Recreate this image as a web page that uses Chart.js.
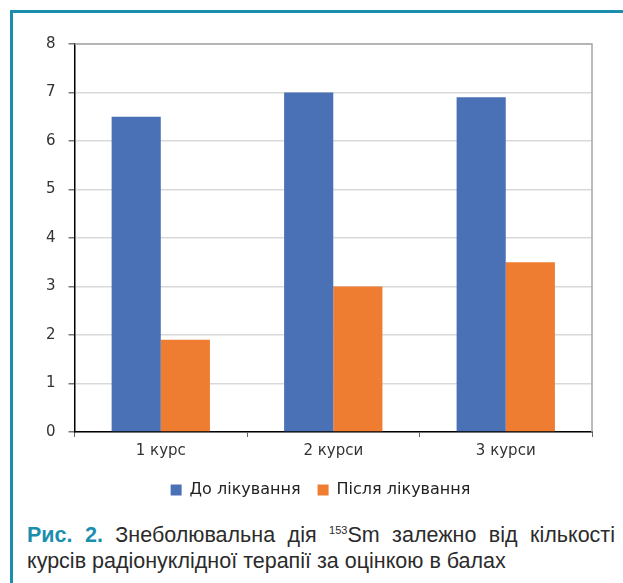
<!DOCTYPE html>
<html>
<head>
<meta charset="utf-8">
<script src="https://cdn.jsdelivr.net/npm/chart.js@4"></script>
<style>
  html, body { margin: 0; padding: 0; background: #fff; }
  body { width: 623px; height: 583px; position: relative; overflow: hidden; }
  .frame {
    position: absolute; left: 10px; top: 10px; right: -10px; bottom: -10px;
    border-left: 3px solid #1b8eae; border-top: 3px solid #1b8eae;
  }
  #wrap { position: absolute; left: 0; top: 0; width: 623px; height: 514px; }
  .caption {
    position: absolute; left: 27px; top: 522px; width: 588px;
    font-family: "Liberation Sans", Arial, sans-serif; font-size: 21.5px;
    line-height: 26px; color: #2b2b2b;
  }
  .caption .l1 { text-align: justify; text-align-last: justify; white-space: nowrap; }
  .caption b { color: #1b8eae; }
  .caption sup { font-size: 11px; vertical-align: 8px; line-height: 0; }
</style>
</head>
<body>
<div class="frame"></div>
<div id="wrap"><canvas id="c"></canvas></div>
<div class="caption">
  <div class="l1"><b>Рис. 2.</b> Знеболювальна дія <sup>153</sup>Sm залежно від кількості</div>
  <div>курсів радіонуклідної терапії за оцінкою в балах</div>
</div>
<script>
const categories = ["1 курс", "2 курси", "3 курси"];
const beforeTreatment = [6.5, 7.0, 6.9];
const afterTreatment = [1.9, 3.0, 3.5];
const seriesNames = ["До лікування", "Після лікування"];

// Thin grey frame along the top and right edges of the plot area
const plotFrame = {
  id: 'plotFrame',
  afterDraw(chart) {
    const { ctx, chartArea: a } = chart;
    ctx.save();
    ctx.strokeStyle = '#a6a6a6';
    ctx.lineWidth = 1.5;
    ctx.beginPath();
    ctx.moveTo(a.left, a.top);
    ctx.lineTo(a.right, a.top);
    ctx.lineTo(a.right, a.bottom);
    ctx.stroke();
    ctx.restore();
  }
};

// Nudge the legend row a little to the right of the canvas centre
const legendShift = {
  id: 'legendShift',
  afterLayout(chart) {
    if (chart.legend) {
      chart.legend.left += 8;
      chart.legend.right += 8;
    }
  }
};

const tickFont = { family: "'DejaVu Sans', sans-serif", size: 15 };

new Chart(document.getElementById('c'), {
  type: 'bar',
  data: {
    labels: categories,
    datasets: [
      { label: seriesNames[0], data: beforeTreatment, backgroundColor: '#4a71b6' },
      { label: seriesNames[1], data: afterTreatment, backgroundColor: '#ee7d31' }
    ]
  },
  options: {
    responsive: true,
    maintainAspectRatio: false,
    animation: false,
    categoryPercentage: 0.57,
    barPercentage: 1.0,
    layout: { padding: { left: 33, right: 31, top: 44, bottom: 6 } },
    plugins: {
      tooltip: { enabled: false },
      legend: {
        position: 'bottom',
        labels: {
          boxWidth: 11, boxHeight: 11, padding: 17,
          color: '#222',
          font: { family: "'DejaVu Sans', sans-serif", size: 16 }
        }
      }
    },
    scales: {
      x: {
        grid: { display: true, drawOnChartArea: false, tickLength: 5, tickColor: '#666', offset: true },
        border: { color: '#000', width: 1.5 },
        ticks: { color: '#333', font: tickFont, padding: 5 }
      },
      y: {
        min: 0, max: 8,
        grid: { color: '#d9d9d9', lineWidth: 1.5, tickLength: 6, tickColor: '#777' },
        border: { color: '#000', width: 1.5 },
        ticks: { stepSize: 1, color: '#333', font: tickFont, padding: 13 }
      }
    }
  },
  plugins: [plotFrame, legendShift]
});
</script>
</body>
</html>
